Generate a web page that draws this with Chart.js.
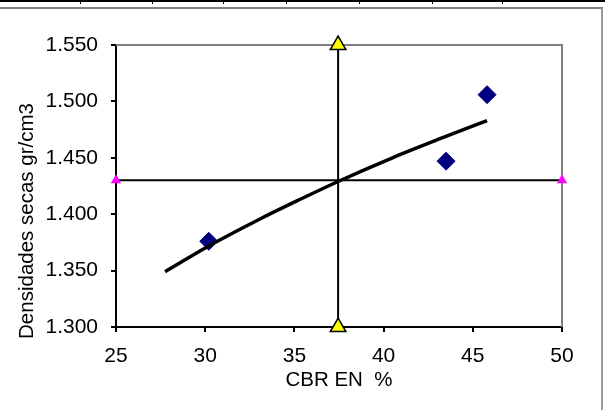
<!DOCTYPE html>
<html lang="es">
<head>
    <meta charset="UTF-8">
    <title>CBR vs Densidades</title>
    <style>
        body {
            margin: 0;
            padding: 0;
            background: #fff;
            width: 605px;
            height: 410px;
            overflow: hidden;
            position: relative;
            font-family: "Liberation Sans", Arial, sans-serif;
        }
        #tableEdge {
            position: absolute;
            left: 0;
            top: 0;
            width: 605px;
            height: 2px;
            background: #000;
        }
        .cellTick {
            position: absolute;
            top: 0;
            width: 1px;
            height: 4px;
            background: #000;
        }
        #frame {
            position: absolute;
            left: 0;
            top: 7px;
            width: 601px;
            height: 410px;
            border-top: 2px solid #808080;
            border-right: 2px solid #999;
        }
        #chartBox {
            position: absolute;
            left: 0;
            top: 0;
            width: 605px;
            height: 410px;
        }
    </style>
</head>
<body>
    <div id="tableEdge"></div>
    <div class="cellTick" style="left:80px"></div>
    <div class="cellTick" style="left:152px"></div>
    <div class="cellTick" style="left:223px"></div>
    <div class="cellTick" style="left:286px"></div>
    <div class="cellTick" style="left:359px"></div>
    <div class="cellTick" style="left:432px"></div>
    <div class="cellTick" style="left:502px"></div>
    <div id="frame"></div>
    <div id="chartBox">
        <canvas id="cbrChart" width="605" height="410"></canvas>
    </div>
    <script src="https://cdn.jsdelivr.net/npm/chart.js"></script>
    <script>
        // ensayos medidos
        const cbrValues = [30.2, 43.5, 45.8];
        const densityValues = [1.376, 1.447, 1.506];

        // curva de tendencia
        const trendCbr = [27.75, 30.2, 33.1, 35.3, 37.45, 40.5, 43.35, 45.8];
        const trendDensity = [1.349, 1.3718, 1.396, 1.413, 1.429, 1.450, 1.468, 1.483];

        // lineas de referencia
        const refCbr = 37.45;
        const refDensity = 1.43;
        const xLimits = [25, 50];
        const yLimits = [1.30, 1.55];

        const tickFont = { family: '"Liberation Sans", Arial, sans-serif', size: 21 };
        const titleFont = { family: '"Liberation Sans", Arial, sans-serif', size: 20.5 };

        const toPoints = (xs, ys) => xs.map((x, i) => ({ x: x, y: ys[i] }));

        const plotFrame = {
            id: 'plotFrame',
            beforeDatasetsDraw(chart) {
                const { ctx, chartArea } = chart;
                ctx.save();
                ctx.strokeStyle = '#808080';
                ctx.lineWidth = 2;
                ctx.beginPath();
                ctx.moveTo(chartArea.left, chartArea.top);
                ctx.lineTo(chartArea.right, chartArea.top);
                ctx.lineTo(chartArea.right, chartArea.bottom);
                ctx.stroke();
                ctx.restore();
            },
            afterDraw(chart) {
                const { ctx } = chart;
                ctx.save();
                ctx.translate(27, 221);
                ctx.rotate(-Math.PI / 2);
                ctx.font = '20.5px "Liberation Sans", Arial, sans-serif';
                ctx.fillStyle = '#000';
                ctx.textAlign = 'center';
                ctx.textBaseline = 'middle';
                ctx.fillText('Densidades secas gr/cm3', 0, 0);
                ctx.restore();
            }
        };

        new Chart(document.getElementById('cbrChart'), {
            type: 'scatter',
            data: {
                datasets: [
                    {
                        label: 'Tendencia',
                        data: toPoints(trendCbr, trendDensity),
                        showLine: true,
                        borderColor: '#000',
                        borderWidth: 3.5,
                        cubicInterpolationMode: 'monotone',
                        pointRadius: 0
                    },
                    {
                        label: 'CBR',
                        data: toPoints([refCbr, refCbr], yLimits),
                        showLine: true,
                        borderColor: '#000',
                        borderWidth: 2,
                        pointStyle: 'triangle',
                        pointRadius: 9,
                        pointBackgroundColor: '#ffff00',
                        pointBorderColor: '#000',
                        pointBorderWidth: 1.5
                    },
                    {
                        label: 'Densidad',
                        data: toPoints(xLimits, [refDensity, refDensity]),
                        showLine: true,
                        borderColor: '#000',
                        borderWidth: 2,
                        pointStyle: 'triangle',
                        pointRadius: 6,
                        pointBackgroundColor: '#ff00ff',
                        pointBorderColor: '#ff00ff',
                        pointBorderWidth: 0
                    },
                    {
                        label: 'Ensayos',
                        data: toPoints(cbrValues, densityValues),
                        pointStyle: 'rectRot',
                        pointRadius: 9,
                        pointBackgroundColor: '#000080',
                        pointBorderColor: '#000080',
                        pointBorderWidth: 1
                    }
                ]
            },
            options: {
                responsive: false,
                animation: false,
                clip: false,
                layout: {
                    padding: { left: 0, right: 43, top: 45, bottom: 17.7 }
                },
                plugins: {
                    legend: { display: false },
                    tooltip: { enabled: false }
                },
                scales: {
                    x: {
                        type: 'linear',
                        min: xLimits[0],
                        max: xLimits[1],
                        afterFit(scale) { scale.height = 65.3; },
                        border: { display: true, color: '#000', width: 2 },
                        grid: { drawOnChartArea: false, drawTicks: true, tickLength: 5, color: '#000', lineWidth: 2 },
                        ticks: {
                            stepSize: 5,
                            color: '#000',
                            font: tickFont,
                            padding: 11.4
                        },
                        title: {
                            display: true,
                            text: 'CBR EN  %',
                            color: '#000',
                            font: titleFont,
                            padding: { top: 2.1, bottom: 0 }
                        }
                    },
                    y: {
                        type: 'linear',
                        min: yLimits[0],
                        max: yLimits[1],
                        afterFit(scale) { scale.width = 116; },
                        border: { display: true, color: '#000', width: 2 },
                        grid: { drawOnChartArea: false, drawTicks: true, tickLength: 5, color: '#000', lineWidth: 2 },
                        ticks: {
                            stepSize: 0.05,
                            color: '#000',
                            font: tickFont,
                            padding: 13,
                            callback: (v) => v.toFixed(3)
                        }
                    }
                }
            },
            plugins: [plotFrame]
        });
    </script>
</body>
</html>
